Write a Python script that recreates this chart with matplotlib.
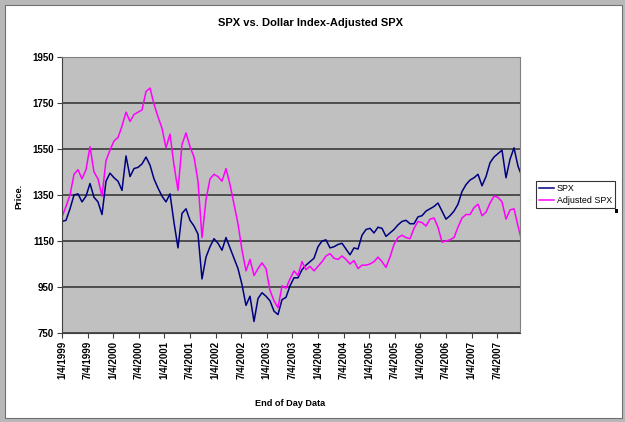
import matplotlib
matplotlib.use('Agg')
import matplotlib.pyplot as plt
from matplotlib.patches import Rectangle
import numpy as np

plt.rcParams['font.family'] = ['Liberation Sans', 'DejaVu Sans']

# one value every 20 trading days, starting 1/4/1999
DAYS_PER_SAMPLE = 20
TICK_EVERY = 128

spx = [1235, 1240, 1290, 1350, 1355, 1320, 1345, 1400, 1340, 1320,
       1265, 1410, 1445, 1425, 1410, 1370, 1520, 1430, 1465, 1470,
       1485, 1515, 1480, 1420, 1380, 1345, 1320, 1355, 1230, 1120,
       1270, 1290, 1240, 1215, 1180, 985, 1080, 1125, 1160, 1140,
       1110, 1165, 1120, 1075, 1030, 960, 870, 910, 800, 900,
       925, 910, 890, 845, 830, 895, 905, 955, 990, 990,
       1025, 1045, 1060, 1075, 1125, 1150, 1155, 1120, 1125, 1135,
       1140, 1115, 1090, 1120, 1115, 1175, 1200, 1205, 1185, 1210,
       1205, 1170, 1185, 1200, 1220, 1235, 1240, 1225, 1225, 1255,
       1260, 1280, 1290, 1300, 1315, 1280, 1245, 1260, 1280, 1310,
       1365, 1395, 1415, 1425, 1440, 1390, 1430, 1490, 1515, 1530,
       1545, 1425, 1505, 1555, 1475, 1430]

adj_spx = [1255, 1300, 1350, 1440, 1460, 1420, 1460, 1560, 1450, 1420,
           1345, 1500, 1545, 1585, 1600, 1650, 1710, 1670, 1700, 1710,
           1720, 1800, 1815, 1745, 1690, 1640, 1555, 1615, 1480, 1370,
           1570, 1620, 1560, 1515, 1410, 1165, 1330, 1420, 1440, 1430,
           1410, 1465, 1395, 1310, 1225, 1110, 1020, 1070, 1000, 1030,
           1055, 1030, 935, 890, 860, 955, 945, 985, 1020, 1000,
           1060, 1025, 1040, 1020, 1040, 1060, 1085, 1095, 1075, 1070,
           1085, 1070, 1050, 1065, 1030, 1045, 1045, 1050, 1060, 1080,
           1060, 1035, 1080, 1135, 1165, 1175, 1165, 1160, 1205, 1235,
           1230, 1215, 1245, 1250, 1210, 1145, 1150, 1155, 1165, 1210,
           1250, 1265, 1265, 1295, 1310, 1260, 1275, 1315, 1345, 1340,
           1320, 1245, 1285, 1290, 1215, 1145]

tick_labels = ['1/4/1999', '7/4/1999', '1/4/2000', '7/4/2000', '1/4/2001',
               '7/4/2001', '1/4/2002', '7/4/2002', '1/4/2003', '7/4/2003',
               '1/4/2004', '7/4/2004', '1/4/2005', '7/4/2005', '1/4/2006',
               '7/4/2006', '1/4/2007', '7/4/2007']

x = np.arange(len(spx)) * DAYS_PER_SAMPLE

fig = plt.figure(figsize=(6.25, 4.22), dpi=100, facecolor='#B8B8B8')
W, H = 625.0, 422.0

# chart area (white with dark inner edge)
fig.patches.append(Rectangle((4.5 / W, 4.5 / H), 617 / W, 413 / H,
                             transform=fig.transFigure, facecolor='white',
                             edgecolor='#707070', lw=0.8, zorder=-1))

ax = fig.add_axes([62 / W, 1 - 333 / H, 458 / W, 276 / H])
ax.set_facecolor('#C0C0C0')

ax.plot(x, spx, color='#000080', lw=1.1, label='SPX')
ax.plot(x, adj_spx, color='#FF00FF', lw=1.1, label='Adjusted SPX')

ax.set_xlim(0, 2290)
ax.set_ylim(750, 1950)
ax.set_yticks(np.arange(750, 1951, 200))
ax.set_xticks(np.arange(len(tick_labels)) * TICK_EVERY)
ax.set_xticklabels(tick_labels, rotation=90, fontsize=7, fontweight='bold')
for lab in ax.get_yticklabels():
    lab.set_fontsize(7)
    lab.set_fontweight('bold')

ax.yaxis.grid(True, color='#3a3a3a', lw=1.2)
ax.set_axisbelow(True)
ax.tick_params(direction='out', length=3.6, width=0.8, color='#404040', pad=2)
for s in ['left', 'bottom']:
    ax.spines[s].set_color('#404040')
for s in ['top', 'right']:
    ax.spines[s].set_color('#808080')

fig.text(311 / W, 1 - 23 / H, 'SPX vs. Dollar Index-Adjusted SPX',
         ha='center', va='center', fontsize=8, fontweight='bold')
fig.text(290 / W, 1 - 404 / H, 'End of Day Data', ha='center', va='center',
         fontsize=6.6, fontweight='bold')
fig.text(19 / W, 1 - 196 / H, 'Price.', ha='center', va='center',
         rotation=90, fontsize=6.6, fontweight='bold')

leg = ax.legend(loc='upper left', bbox_to_anchor=(536 / W, 1 - 181 / H),
                bbox_transform=fig.transFigure, borderaxespad=0,
                fontsize=6.4, frameon=True, fancybox=False,
                handlelength=1.7, handletextpad=0.3, labelspacing=0.35,
                borderpad=0.35)
leg.get_frame().set_edgecolor('black')
leg.get_frame().set_linewidth(0.8)

fig.patches.append(Rectangle((615 / W, 1 - 213 / H), 3 / W, 4 / H,
                             transform=fig.transFigure, facecolor='black',
                             edgecolor='none', zorder=10))

fig.savefig('out.png', dpi=100, facecolor=fig.get_facecolor())
